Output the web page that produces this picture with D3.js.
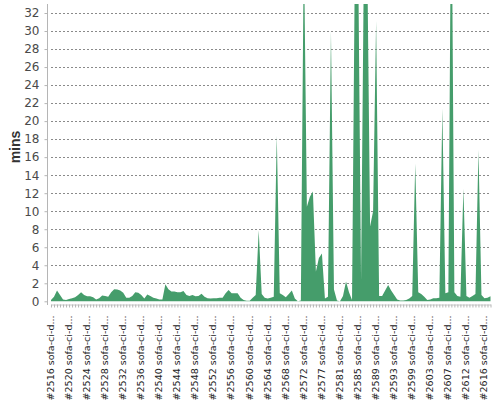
<!DOCTYPE html>
<html>
<head>
<meta charset="utf-8">
<script src="https://cdn.jsdelivr.net/npm/d3@7"></script>
<style>
  body { margin: 0; background: #fff; }
  svg { display: block; }
</style>
</head>
<body>
<div id="chart"></div>
<script>
// build labels shown on the x axis (one every 6 jobs)
const buildLabels = ["#2516 sofa-ci-d...", "#2520 sofa-ci-d...", "#2524 sofa-ci-d...", "#2528 sofa-ci-d...",
    "#2532 sofa-ci-d...", "#2536 sofa-ci-d...", "#2540 sofa-ci-d...", "#2544 sofa-ci-d...",
    "#2548 sofa-ci-d...", "#2552 sofa-ci-d...", "#2556 sofa-ci-d...", "#2560 sofa-ci-d...",
    "#2564 sofa-ci-d...", "#2568 sofa-ci-d...", "#2572 sofa-ci-d...", "#2577 sofa-ci-d...",
    "#2581 sofa-ci-d...", "#2585 sofa-ci-d...", "#2589 sofa-ci-d...", "#2593 sofa-ci-d...",
    "#2599 sofa-ci-d...", "#2603 sofa-ci-d...", "#2607 sofa-ci-d...", "#2612 sofa-ci-d...",
    "#2616 sofa-ci-d..."];

// build duration in minutes, one per job
const durations = [
    0.15, 0.5, 1.2, 0.7, 0.2, 0.15, 0.25, 0.35, 0.45, 0.7,
    1.0, 0.7, 0.55, 0.55, 0.45, 0.2, 0.35, 0.65, 0.6, 0.5,
    1.0, 1.35, 1.3, 1.2, 0.95, 0.4, 0.4, 0.6, 1.0, 0.95,
    0.7, 0.3, 0.75, 0.6, 0.4, 0.3, 0.2, 0.2, 1.9, 1.35,
    1.1, 1.1, 1.0, 1.0, 1.15, 0.7, 0.6, 0.7, 0.55, 0.6,
    0.85, 0.5, 0.35, 0.3, 0.35, 0.35, 0.4, 0.4, 0.9, 1.25,
    0.9, 0.9, 0.9, 0.4, 0.15, 0.05, 0.05, 0.4, 0.7, 7.9,
    0.8, 0.4, 0.3, 0.4, 0.5, 18.4, 0.9, 0.7, 0.45, 0.8,
    1.2, 0.3, 0.0, 0.1, 40, 10.5, 11.6, 12.2, 3.3, 4.8,
    5.3, 0.3, 0.5, 30.0, 1.3, 0.1, 0.0, 0.6, 2.2, 1.0,
    0.15, 40, 40, 2.4, 40, 40, 8.3, 10, 31.1, 0.6,
    0.6, 1.2, 1.8, 1.2, 0.7, 0.2, 0.1, 0.1, 0.15, 0.3,
    0.6, 15.3, 1.0, 0.8, 0.5, 0.15, 0.2, 0.35, 0.35, 0.4,
    21.4, 0.9, 1.0, 50, 1.0, 0.6, 0.5, 12.5, 0.6, 0.4,
    0.6, 0.8, 16.8, 0.7, 0.35, 0.4, 0.55];

const yTicks = d3.range(0, 33, 2);
const LABEL_EVERY = 6;

const width = 500, height = 400;

const svg = d3.select("#chart").append("svg")
    .attr("width", width)
    .attr("height", height);

const x = d3.scaleLinear()
    .domain([0, durations.length - 1])
    .range([51, 490.5]);

const y = d3.scaleLinear()
    .domain([0, 33])
    .range([301.3, 4]);

svg.append("defs").append("clipPath")
    .attr("id", "plot-clip")
    .append("rect")
    .attr("x", 40).attr("y", 4)
    .attr("width", 460).attr("height", 300);

// grid lines
svg.append("g")
    .selectAll("line")
    .data(yTicks.filter(d => d > 0))
    .join("line")
    .attr("x1", 51).attr("x2", 490.5)
    .attr("y1", d => Math.round(y(d)) + 0.5)
    .attr("y2", d => Math.round(y(d)) + 0.5)
    .attr("stroke", "#8a8a8a")
    .attr("stroke-width", 1)
    .attr("stroke-dasharray", "2,2");

// area
svg.append("path")
    .datum(durations)
    .attr("clip-path", "url(#plot-clip)")
    .attr("fill", "#459d6b")
    .attr("d", d3.area()
        .x((d, i) => x(i))
        .y0(y(0))
        .y1(d => y(d)));

// y axis
const yAxis = svg.append("g")
    .attr("transform", "translate(47.5,0)")
    .call(d3.axisLeft(y).tickValues(yTicks).tickSize(3).tickPadding(5).tickSizeOuter(0));
yAxis.select(".domain").attr("stroke", "#b5b5b5").attr("d", "M0,4V305");
yAxis.selectAll(".tick line").attr("stroke", "#b5b5b5");
yAxis.selectAll("text")
    .attr("fill", "#4a4a4a")
    .style("font-family", "DejaVu Sans")
    .style("font-size", "12px");

// x axis
const xAxis = svg.append("g")
    .attr("transform", "translate(0,304.5)")
    .call(d3.axisBottom(x)
        .tickValues(d3.range(durations.length))
        .tickSize(3)
        .tickSizeOuter(0)
        .tickFormat(i => i % LABEL_EVERY === 0 ? buildLabels[i / LABEL_EVERY] : ""));
xAxis.select(".domain").attr("stroke", "#c8c8c8");
xAxis.selectAll(".tick line").attr("stroke", "#b5b5b5");
xAxis.selectAll("text")
    .attr("transform", "rotate(-90)")
    .attr("text-anchor", "end")
    .attr("x", -11)
    .attr("y", -1)
    .attr("dy", "0.35em")
    .attr("fill", "#222")
    .style("font-family", "DejaVu Sans")
    .style("font-size", "9.5px");

// y label
svg.append("text")
    .attr("transform", "translate(20,147) rotate(-90)")
    .attr("text-anchor", "middle")
    .attr("fill", "#333")
    .style("font-family", "Liberation Sans")
    .style("font-weight", "bold")
    .style("font-size", "14px")
    .text("mins");
</script>
</body>
</html>
